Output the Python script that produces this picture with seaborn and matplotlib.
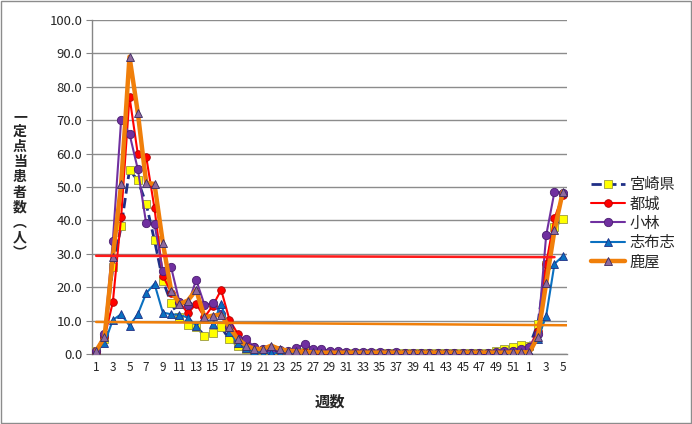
import numpy as np
import pandas as pd
import seaborn as sns
import matplotlib.pyplot as plt
from matplotlib.patches import Rectangle

# weeks: 1..52 then 1..5 of the next year
weeks = list(range(1, 53)) + list(range(1, 6))

miyazaki = [0.8, 4.5, 26.0, 38.2, 55.1, 52.0, 45.0, 34.0, 22.0, 15.2,
            11.0, 8.6, 8.2, 5.5, 6.3, 8.0, 4.4, 2.5, 1.5, 1.0,
            0.8, 0.6, 0.5, 0.4, 0.4, 0.5, 0.4, 0.4, 0.3, 0.3,
            0.3, 0.3, 0.3, 0.3, 0.2, 0.3, 0.2, 0.2, 0.2, 0.2,
            0.2, 0.2, 0.2, 0.2, 0.2, 0.2, 0.3, 0.4, 0.8, 1.5,
            2.2, 2.7, 2.5, 9.0, 26.6, 38.0, 40.4]
miyakonojo = [0.5, 5.0, 15.5, 41.1, 77.0, 59.8, 59.1, 43.6, 23.5, 18.4,
              15.5, 12.2, 15.0, 11.0, 14.5, 19.2, 10.2, 6.0, 3.5, 2.0,
              1.2, 1.0, 0.8, 0.5, 0.4, 0.5, 0.5, 0.4, 0.3, 0.3,
              0.3, 0.3, 0.3, 0.3, 0.3, 0.3, 0.3, 0.3, 0.3, 0.3,
              0.3, 0.3, 0.3, 0.3, 0.3, 0.3, 0.3, 0.3, 0.4, 0.5,
              0.8, 1.0, 2.0, 7.0, 27.0, 40.7, 47.5]
kobayashi = [1.0, 6.0, 33.8, 70.2, 65.9, 55.3, 39.1, 38.9, 24.8, 25.9,
             15.5, 14.7, 22.2, 14.7, 15.2, 12.0, 8.0, 4.5, 4.4, 2.0,
             1.5, 1.0, 1.2, 0.8, 1.7, 3.0, 1.5, 1.5, 1.0, 0.8,
             0.5, 0.5, 0.6, 0.5, 0.5, 0.4, 0.6, 0.4, 0.3, 0.3,
             0.3, 0.3, 0.3, 0.3, 0.3, 0.3, 0.3, 0.3, 0.5, 0.8,
             1.0, 1.5, 2.2, 6.0, 35.5, 48.6, 48.3]
shibushi = [0.7, 3.2, 10.2, 11.9, 8.5, 11.9, 18.2, 21.0, 12.4, 11.9,
            11.7, 10.9, 8.5, 10.7, 9.0, 15.0, 6.7, 3.2, 1.7, 0.8,
            0.3, 0.2, 0.2, 0.2, 0.2, 0.2, 0.2, 0.2, 0.1, 0.1,
            0.1, 0.1, 0.1, 0.1, 0.1, 0.1, 0.1, 0.1, 0.1, 0.1,
            0.1, 0.1, 0.1, 0.1, 0.1, 0.1, 0.1, 0.1, 0.1, 0.2,
            0.2, 0.3, 0.5, 4.5, 11.4, 27.0, 29.3]
kanoya = [1.0, 5.0, 29.0, 50.9, 89.0, 72.2, 51.3, 50.9, 33.3, 19.0,
          15.0, 16.0, 19.2, 11.0, 11.5, 11.8, 8.0, 4.5, 2.5, 1.5,
          1.5, 2.5, 1.5, 1.0, 0.8, 0.6, 0.5, 0.4, 0.4, 0.4,
          0.4, 0.4, 0.4, 0.4, 0.4, 0.4, 0.4, 0.4, 0.4, 0.4,
          0.4, 0.4, 0.4, 0.4, 0.4, 0.4, 0.4, 0.4, 0.4, 0.4,
          0.5, 0.5, 0.5, 5.2, 21.2, 37.1, 48.6]

# reference levels (start value, end value)
alarm_level = [29.4, 29.0]
caution_level = [9.6, 8.6]

series = [
    ('宮崎県', miyazaki, dict(color='#1F2F86', lw=2.0, ls='--', marker='s',
                            mfc='#FFFF00', mec='#9A9A40', ms=5.5, mew=0.6)),
    ('都城', miyakonojo, dict(color='#FF0000', lw=1.5, ls='-', marker='o',
                            mfc='#FF0000', mec='#B00000', ms=5.5, mew=0.6)),
    ('小林', kobayashi, dict(color='#7030A0', lw=1.5, ls='-', marker='o',
                           mfc='#7030A0', mec='#4B1E70', ms=6, mew=0.6)),
    ('志布志', shibushi, dict(color='#0A70C0', lw=1.5, ls='-', marker='^',
                            mfc='#0A70C0', mec='#1F2F86', ms=5.5, mew=0.6)),
    ('鹿屋', kanoya, dict(color='#F07F0A', lw=3.2, ls='-', marker='^',
                        mfc='#8E6A9E', mec='#3A2A60', ms=6, mew=0.6)),
]

sns.set_style('white')
plt.rcParams['font.family'] = ['Noto Sans CJK JP', 'DejaVu Sans']

fig = plt.figure(figsize=(6.92, 4.24), dpi=100)
ax = fig.add_axes([92 / 692, 1 - 354 / 424, (567 - 92) / 692, (354 - 20) / 424])

x = np.arange(len(weeks))
for name, vals, st in series:
    df = pd.DataFrame({'x': x, 'y': vals})
    sns.lineplot(data=df, x='x', y='y', ax=ax, label=name, legend=False,
                 color=st['color'], linewidth=st['lw'], linestyle=st['ls'],
                 marker=st['marker'], markerfacecolor=st['mfc'],
                 markeredgecolor=st['mec'], markersize=st['ms'],
                 markeredgewidth=st['mew'], zorder=3)

ax.plot([0, len(weeks) - 2], alarm_level, color='#FF1A1A', lw=1.8, zorder=5)
ax.plot([0, len(weeks) - 0.4], caution_level, color='#F07F0A', lw=1.8, zorder=5)

ax.set_xlim(-0.5, len(weeks) - 0.5)
ax.set_ylim(0, 100)
ax.set_yticks(np.arange(0, 101, 10))
ax.set_yticklabels([f'{v:.1f}' for v in np.arange(0, 101, 10)], fontsize=9.5)
ax.set_xticks(x[::2])
ax.set_xticklabels([str(w) for w in weeks[::2]], fontsize=8.5)
ax.set_xticks(np.arange(-0.5, len(weeks), 1), minor=True)
ax.tick_params(axis='x', which='major', length=0, pad=5)
ax.tick_params(axis='x', which='minor', length=4, color='#868686', width=0.8)
ax.tick_params(axis='y', length=4, color='#868686', width=0.8, pad=3, left=True)
ax.grid(axis='y', color='#8C8C8C', lw=1)
ax.set_axisbelow(True)
for s in ['top', 'right']:
    ax.spines[s].set_visible(False)
for s in ['left', 'bottom']:
    ax.spines[s].set_color('#868686')
    ax.spines[s].set_linewidth(1)

ax.set_xlabel('週数', fontsize=11, fontweight='bold', labelpad=14)
ax.set_ylabel('')
fig.text(20 / 692, 1 - 185 / 424, '一\n定\n点\n当\n患\n者\n数\n︵\n人\n︶',
         ha='center', va='center', fontsize=10, fontweight='bold',
         linespacing=1.1)

handles, labels = ax.get_legend_handles_labels()
fig.legend(handles, labels, loc='upper left',
           bbox_to_anchor=(585 / 692, 1 - 170 / 424), frameon=False,
           fontsize=11, handlelength=2.2, handletextpad=0.3, labelspacing=0.15,
           borderaxespad=0)

fig.patches.append(Rectangle((0.001, 0.002), 0.997, 0.996, transform=fig.transFigure,
                             fill=False, edgecolor='#8C8C8C', lw=1))

fig.savefig('out.png', dpi=100)
